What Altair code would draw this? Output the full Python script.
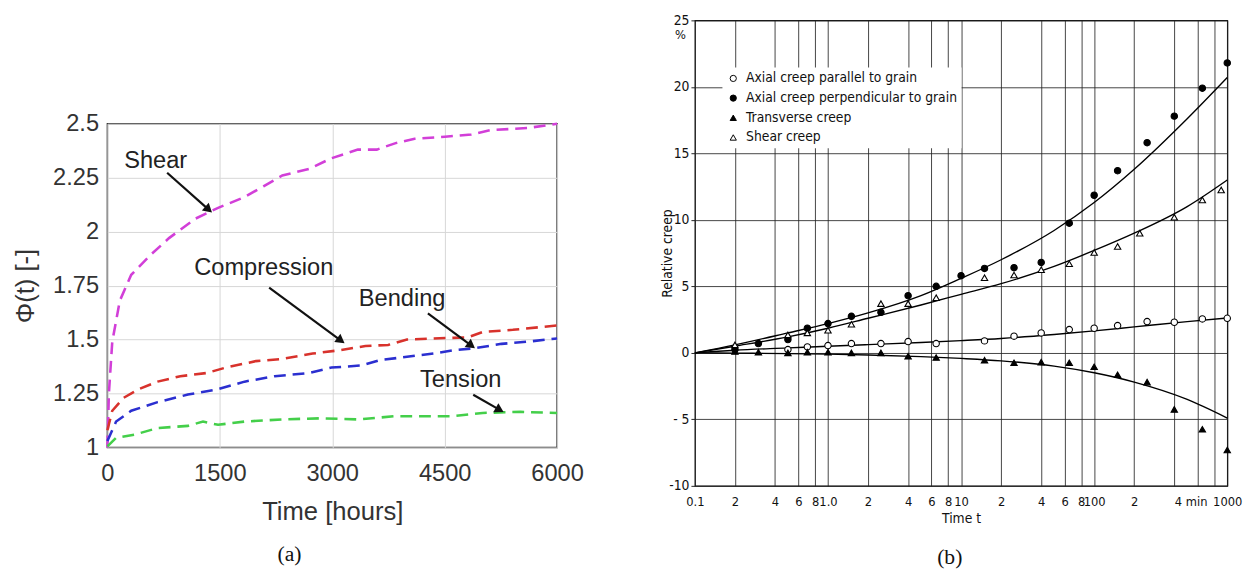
import math
import altair as alt
import pandas as pd

# ================= Panel (a): creep coefficient vs time =================
a_series = ["Shear", "Compression", "Bending", "Tension"]
a_colors = ["#d23fd8", "#d8322c", "#2b2fd0", "#44cf4a"]

shear_t = [0, 20, 65, 166, 318, 570, 822, 1175, 1477, 1830, 2082, 2334, 2687, 2990, 3342, 3594, 3846, 4099, 4502, 4855, 5107, 5610, 6000]
shear_phi = [1.0, 1.25, 1.49, 1.68, 1.80, 1.89, 1.97, 2.06, 2.11, 2.16, 2.21, 2.26, 2.29, 2.34, 2.38, 2.38, 2.41, 2.43, 2.44, 2.45, 2.47, 2.48, 2.50]

comp_t = [0, 65, 217, 418, 670, 973, 1326, 1578, 1981, 2334, 2738, 3091, 3443, 3745, 3997, 4350, 4804, 5006, 5409, 6000]
comp_phi = [1.08, 1.17, 1.23, 1.27, 1.305, 1.33, 1.345, 1.37, 1.40, 1.41, 1.435, 1.45, 1.47, 1.475, 1.50, 1.505, 1.51, 1.535, 1.545, 1.565]

bend_t = [0, 116, 318, 670, 1074, 1477, 1830, 2233, 2687, 2990, 3393, 3644, 3997, 4350, 4603, 4905, 5258, 5610, 6000]
bend_phi = [1.03, 1.12, 1.17, 1.21, 1.245, 1.27, 1.305, 1.33, 1.345, 1.37, 1.38, 1.405, 1.42, 1.435, 1.45, 1.46, 1.48, 1.49, 1.505]

tens_t = [0, 116, 368, 670, 1074, 1276, 1477, 1830, 2334, 2838, 3342, 3846, 4603, 5006, 5510, 6000]
tens_phi = [1.005, 1.045, 1.06, 1.09, 1.10, 1.12, 1.105, 1.12, 1.13, 1.135, 1.13, 1.145, 1.145, 1.16, 1.165, 1.16]

a_xticks = [0, 1500, 3000, 4500, 6000]
a_yticks = [1, 1.25, 1.5, 1.75, 2, 2.25, 2.5]
a_ylabels = ["1", "1.25", "1.5", "1.75", "2", "2.25", "2.5"]

ann_labels = ["Shear", "Compression", "Bending", "Tension"]
ann_text_t = [645, 2087, 3933, 4714]
ann_text_phi = [2.327, 1.829, 1.687, 1.31]
ann_from_t = [797, 2158, 4276, 4881]
ann_from_phi = [2.273, 1.740, 1.621, 1.244]
ann_to_t = [1351, 3116, 4856, 5234]
ann_to_phi = [2.102, 1.495, 1.472, 1.174]

# ================= Panel (b): relative creep vs log time =================
b_series = ["Axial creep parallel to grain", "Axial creep perpendicular to grain",
            "Transverse creep", "Shear creep"]
b_shapes = ["circle", "circle", "triangle-up", "triangle-up"]
b_fills = ["white", "black", "black", "white"]

par_t = [0.5, 0.7, 1, 1.5, 2.5, 4, 6.5, 15, 25, 40, 65, 100, 150, 250, 400, 650, 1000]
par_v = [0.25, 0.45, 0.55, 0.7, 0.7, 0.85, 0.7, 0.9, 1.25, 1.5, 1.75, 1.85, 2.05, 2.35, 2.3, 2.55, 2.6]

perp_t = [0.2, 0.3, 0.5, 0.7, 1, 1.5, 2.5, 4, 6.5, 10, 15, 25, 40, 65, 100, 150, 250, 400, 650, 1000]
perp_v = [0.25, 0.7, 1.0, 1.85, 2.2, 2.75, 3.05, 4.3, 5.0, 5.8, 6.35, 6.4, 6.8, 9.75, 11.85, 13.7, 15.8, 17.8, 19.9, 21.8]

trans_t = [0.2, 0.3, 0.5, 0.7, 1, 1.5, 2.5, 4, 6.5, 15, 25, 40, 65, 100, 150, 250, 400, 650, 1000]
trans_v = [0.1, 0.05, 0.0, 0.05, 0.05, 0.0, 0.0, -0.25, -0.35, -0.55, -0.75, -0.7, -0.75, -1.05, -1.65, -2.2, -4.25, -5.75, -7.3]

shr_t = [0.2, 0.5, 0.7, 1, 1.5, 2.5, 4, 6.5, 15, 25, 40, 65, 100, 150, 220, 400, 650, 900]
shr_v = [0.6, 1.35, 1.5, 1.7, 2.15, 3.7, 3.7, 4.15, 5.65, 5.85, 6.25, 6.7, 7.55, 8.0, 9.0, 10.2, 11.5, 12.25]

fit_t = [0.1, 0.2, 0.5, 1, 2, 5, 10, 20, 50, 100, 200, 500, 1000]
par_fit = [0, 0.2, 0.37, 0.5, 0.62, 0.78, 0.92, 1.08, 1.38, 1.65, 1.95, 2.35, 2.62]
perp_fit = [0, 0.6, 1.5, 2.2, 3.0, 4.3, 5.6, 7.0, 9.2, 11.3, 13.8, 17.6, 20.7]
trans_fit = [0, -0.02, -0.06, -0.1, -0.16, -0.28, -0.42, -0.6, -1.0, -1.5, -2.2, -3.5, -4.9]
shr_fit = [0, 0.5, 1.2, 1.85, 2.6, 3.6, 4.4, 5.2, 6.5, 7.7, 9.0, 11.0, 13.0]

b_xticks = [0.1, 0.2, 0.4, 0.6, 0.8, 1, 2, 4, 6, 8, 10, 20, 40, 60, 80, 100, 200, 400, 600, 800, 1000]
b_xlabels = ["0.1", "2", "4", "6", "8", "1.0", "2", "4", "6", "8", "10", "2", "4", "6", "8", "100", "2", "4 min", "", "", "1000"]
b_yticks = [-10, -5, 0, 5, 10, 15, 20, 25]
b_ylabels = ["-10", "- 5", "0", "5", "10", "15", "20", "25"]

# ================= sizes and fonts =================
W_A, H_A = 457, 329
W_B, H_B = 541, 473
FONT_A = "Liberation Sans, Arial, Helvetica, sans-serif"
FONT_B = "Liberation Sans Narrow, DejaVu Sans Condensed, Roboto Condensed, Arial Narrow, sans-serif"
FONT_CAP = "Liberation Serif, DejaVu Serif, serif"


def label_expr(vals, labs):
    expr = "''"
    for v, l in reversed(list(zip(vals, labs))):
        tol = max(abs(v), 1) * 1e-6
        expr = f"abs(datum.value - ({v})) < {tol} ? '{l}' : ({expr})"
    return expr


# ---------- panel (a) tables ----------
rows = []
for name, ts, ps in zip(a_series, [shear_t, comp_t, bend_t, tens_t],
                        [shear_phi, comp_phi, bend_phi, tens_phi]):
    for t, p in zip(ts, ps):
        rows.append({"series": name, "t": t, "phi": p})
df_a = pd.DataFrame(rows)

angles = []
for t1, p1, t2, p2 in zip(ann_from_t, ann_from_phi, ann_to_t, ann_to_phi):
    dx = (t2 - t1) * W_A / 6000.0
    dy = -(p2 - p1) * H_A / 1.5
    angles.append(math.degrees(math.atan2(dx, -dy)) % 360)

df_ann = pd.DataFrame({"label": ann_labels, "t": ann_text_t, "phi": ann_text_phi})
df_arrow = pd.DataFrame({
    "t": ann_from_t, "phi": ann_from_phi, "t2": ann_to_t, "phi2": ann_to_phi,
    "angle": angles,
})

xa_scale = alt.Scale(domain=[0, 6000], nice=False)
ya_scale = alt.Scale(domain=[1, 2.5], nice=False, zero=False)

xa_axis = alt.Axis(values=a_xticks, format="d", title="Time [hours]", grid=True,
                   gridColor="#d6d6d6", gridWidth=1, domain=False, ticks=False, tickSize=0,
                   labelFont=FONT_A, labelFontSize=24, labelColor="#333333", labelPadding=15,
                   labelFlush=False, titleFont=FONT_A, titleFontSize=26,
                   titleFontWeight="normal", titleColor="#333333", titlePadding=13)
ya_axis = alt.Axis(values=a_yticks, labelExpr=label_expr(a_yticks, a_ylabels),
                   title="Φ(t) [-]", grid=True,
                   gridColor="#d6d6d6", gridWidth=1, domain=False, ticks=False, tickSize=0,
                   labelFont=FONT_A, labelFontSize=24, labelColor="#333333", labelPadding=9,
                   labelFlush=False, titleFont=FONT_A, titleFontSize=26,
                   titleFontWeight="normal", titleColor="#333333", titlePadding=14)

lines_a = alt.Chart(df_a).mark_line(strokeDash=[12, 7], strokeWidth=2.6).encode(
    x=alt.X("t:Q", scale=xa_scale, axis=xa_axis),
    y=alt.Y("phi:Q", scale=ya_scale, axis=ya_axis),
    color=alt.Color("series:N", scale=alt.Scale(domain=a_series, range=a_colors), legend=None),
    detail="series:N",
)
text_a = alt.Chart(df_ann).mark_text(font=FONT_A, fontSize=24, color="#222222").encode(
    x=alt.X("t:Q", scale=xa_scale), y=alt.Y("phi:Q", scale=ya_scale), text="label:N"
)
shaft_a = alt.Chart(df_arrow).mark_rule(strokeWidth=2.2, color="#111111").encode(
    x=alt.X("t:Q", scale=xa_scale), y=alt.Y("phi:Q", scale=ya_scale), x2="t2:Q", y2="phi2:Q"
)
head_a = alt.Chart(df_arrow).mark_point(shape="triangle-up", filled=True, size=110,
                                        color="#111111", opacity=1).encode(
    x=alt.X("t2:Q", scale=xa_scale), y=alt.Y("phi2:Q", scale=ya_scale),
    angle=alt.Angle("angle:Q", scale=None),
)
cap_a = alt.Chart(pd.DataFrame({"c": ["(a)"]})).mark_text(
    font=FONT_CAP, fontSize=22, color="#111111").encode(
    text="c:N", x=alt.value(185), y=alt.value(437)
)

panel_a = alt.layer(lines_a, shaft_a, head_a, text_a, cap_a).properties(
    width=W_A, height=H_A,
    view=alt.ViewBackground(stroke="#333333", strokeWidth=1.5, fill="white"),
)

spacer_a = alt.Chart(pd.DataFrame({"c": [""]})).mark_text().encode(text="c:N").properties(
    width=W_A, height=91,
    view=alt.ViewBackground(stroke="transparent", fill="transparent"),
)
col_a = alt.vconcat(spacer_a, panel_a, spacing=0)

# ---------- panel (b) tables ----------
rows = []
for name, ts, vs in zip(b_series, [par_t, perp_t, trans_t, shr_t],
                        [par_v, perp_v, trans_v, shr_v]):
    for t, v in zip(ts, vs):
        rows.append({"series": name, "t": t, "v": v})
df_b = pd.DataFrame(rows)

rows = []
for name, fs in zip(b_series, [par_fit, perp_fit, trans_fit, shr_fit]):
    for t, v in zip(fit_t, fs):
        rows.append({"series": name, "t": t, "v": v})
df_fit = pd.DataFrame(rows)

xb_scale = alt.Scale(type="log", domain=[0.1, 1000], nice=False)
yb_scale = alt.Scale(domain=[-10, 25], nice=False, zero=False)

xb_axis = alt.Axis(values=b_xticks, labelExpr=label_expr(b_xticks, b_xlabels), title="Time t",
                   grid=True, gridColor="#222222", gridOpacity=0.85, gridWidth=1,
                   domain=False, ticks=False, tickSize=0, labelOverlap=False, labelFlush=False,
                   labelFont=FONT_B, labelFontSize=13, labelColor="#111111", labelPadding=10,
                   labelAlign=alt.condition("datum.value == 400", alt.value("left"), alt.value("center")),
                   titleFont=FONT_B, titleFontSize=14, titleFontWeight="normal",
                   titleColor="#111111", titlePadding=3)
yb_axis = alt.Axis(values=b_yticks, labelExpr=label_expr(b_yticks, b_ylabels),
                   title="Relative creep", grid=True, gridColor="#222222", gridOpacity=0.85,
                   gridWidth=1, domain=False, ticks=True, tickSize=4, tickColor="#222222",
                   labelFont=FONT_B, labelFontSize=14, labelColor="#111111", labelPadding=2,
                   labelFlush=False, titleFont=FONT_B, titleFontSize=14, titleFontWeight="normal",
                   titleColor="#111111", titlePadding=-6)

legend_b = alt.Legend(orient="none", legendX=28, legendY=48, title=None,
                      labelFont=FONT_B, labelFontSize=14, labelColor="#111111", labelLimit=0,
                      symbolSize=40, symbolStrokeColor="black", symbolStrokeWidth=1,
                      fillColor="white", padding=4, rowPadding=6, labelOffset=6)

fit_b = alt.Chart(df_fit).mark_line(color="black", strokeWidth=1.4, interpolate="monotone").encode(
    x=alt.X("t:Q", scale=xb_scale, axis=xb_axis),
    y=alt.Y("v:Q", scale=yb_scale, axis=yb_axis),
    detail="series:N",
)
pts_b = alt.Chart(df_b).mark_point(filled=True, size=42, strokeWidth=1.1, opacity=1).encode(
    x=alt.X("t:Q", scale=xb_scale),
    y=alt.Y("v:Q", scale=yb_scale),
    shape=alt.Shape("series:N", scale=alt.Scale(domain=b_series, range=b_shapes), legend=legend_b),
    fill=alt.Fill("series:N", scale=alt.Scale(domain=b_series, range=b_fills), legend=legend_b),
    stroke=alt.Stroke("series:N", scale=alt.Scale(domain=b_series, range=["black"] * 4), legend=legend_b),
)
pct_b = alt.Chart(pd.DataFrame({"c": ["%"]})).mark_text(
    font=FONT_B, fontSize=13, color="#111111", align="right", baseline="top").encode(
    text="c:N", x=alt.value(-9), y=alt.value(9)
)
cap_b = alt.Chart(pd.DataFrame({"c": ["(b)"]})).mark_text(
    font=FONT_CAP, fontSize=22, color="#111111").encode(
    text="c:N", x=alt.value(259), y=alt.value(545)
)

panel_b = alt.layer(fit_b, pts_b, pct_b, cap_b).properties(
    width=W_B, height=H_B,
    view=alt.ViewBackground(stroke="#111111", strokeWidth=1.2, fill="white"),
)

chart = alt.hconcat(col_a, panel_b, spacing=76).resolve_legend(
    shape="independent", fill="independent", stroke="independent"
).properties(
    padding={"left": 4, "top": 0, "right": 0, "bottom": 0},
    background="white",
)

chart.save("out.html", embed_options={"renderer": "svg", "actions": False})
